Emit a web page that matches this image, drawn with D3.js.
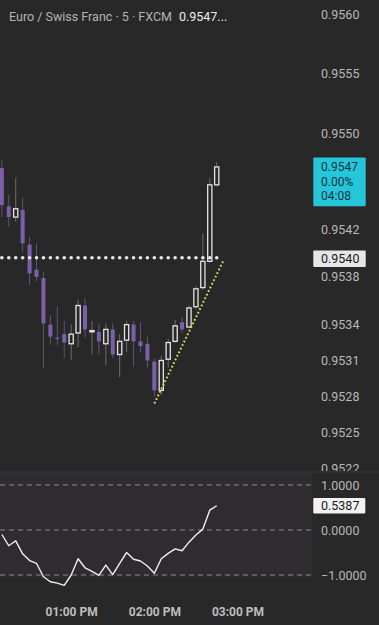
<!DOCTYPE html>
<html>
<head>
<meta charset="utf-8">
<script src="https://cdn.jsdelivr.net/npm/d3@7"></script>
<style>
  body { margin: 0; background: #282828; }
  svg { display: block; }
  text { font-family: Roboto, "Noto Sans", sans-serif; }
</style>
</head>
<body>
<div id="chart"></div>
<script>
// 5 minute candles, EUR/CHF
var times = ["12:10","12:15","12:20","12:25","12:30","12:35","12:40","12:45","12:50","12:55",
             "13:00","13:05","13:10","13:15","13:20","13:25","13:30","13:35","13:40","13:45",
             "13:50","13:55","14:00","14:05","14:10","14:15","14:20","14:25","14:30","14:35",
             "14:40","14:45"];
var opens  = [0.95471,0.95439,0.95430,0.95436,0.95407,0.95386,0.95379,0.95340,0.95329,0.95332,
              0.95324,0.95333,0.95356,0.95334,0.95334,0.95324,0.95336,0.95315,0.95327,0.95340,
              0.95326,0.95324,0.95309,0.95285,0.95311,0.95326,0.95342,0.95338,0.95355,0.95371,
              0.95393,0.95457];
var highs  = [0.95478,0.95449,0.95463,0.95446,0.95413,0.95408,0.95384,0.95348,0.95355,0.95343,
              0.95340,0.95361,0.95362,0.95343,0.95341,0.95341,0.95341,0.95332,0.95343,0.95343,
              0.95342,0.95330,0.95312,0.95314,0.95328,0.95344,0.95346,0.95356,0.95372,0.95416,
              0.95463,0.95476];
var lows   = [0.95430,0.95422,0.95426,0.95401,0.95373,0.95376,0.95304,0.95323,0.95323,0.95312,
              0.95310,0.95321,0.95329,0.95315,0.95315,0.95306,0.95312,0.95296,0.95317,0.95305,
              0.95317,0.95304,0.95280,0.95281,0.95304,0.95325,0.95333,0.95337,0.95353,0.95369,
              0.95392,0.95456];
var closes = [0.95440,0.95430,0.95437,0.95408,0.95383,0.95380,0.95341,0.95330,0.95328,0.95325,
              0.95332,0.95356,0.95336,0.95335,0.95326,0.95336,0.95315,0.95326,0.95340,0.95326,
              0.95322,0.95310,0.95285,0.95310,0.95325,0.95339,0.95336,0.95354,0.95370,0.95393,
              0.95457,0.95472];
var oscValues = [-0.10,-0.35,-0.24,-0.53,-0.68,-0.74,-1.04,-1.15,-1.18,-1.23,
                 -1.00,-0.64,-0.84,-0.92,-1.01,-0.78,-0.99,-0.74,-0.50,-0.65,
                 -0.69,-0.80,-0.96,-0.64,-0.52,-0.42,-0.46,-0.27,-0.11,0.02,
                 0.44,0.5387];
var levelValue = 0.95396;
var trendTimes = ["14:00","14:50"];
var trendPrices = [0.95274,0.95394];
var priceTicks = [0.9560,0.9555,0.9550,0.9542,0.9538,0.9534,0.9531,0.9528,0.9525,0.9522];
var oscTicks = [1,0,-1];
var timeTicks = ["13:00","14:00","15:00"];
var lastLabel = ["0.9547", "0.00%", "04:08"];

var W = 379, H = 625;
var paneRight = 312, mainBottom = 471;
var parseT = function(s){ return d3.timeParse("%H:%M")(s); };

var svg = d3.select("#chart").append("svg").attr("width", W).attr("height", H);
svg.append("rect").attr("width", W).attr("height", H).attr("fill", "#282828");

var x = d3.scaleTime().domain([parseT("12:00"), parseT("15:00")]).range([-12, 237.5]);
var y = d3.scaleLinear().domain([0.9522, 0.9560]).range([468, 14]);
var yOsc = d3.scaleLinear().domain([-1, 1]).range([575, 485]);

var candles = times.map(function(t, i){
  return {t: parseT(t), o: opens[i], h: highs[i], l: lows[i], c: closes[i], osc: oscValues[i]};
});

// clip for main pane
svg.append("clipPath").attr("id", "mainClip").append("rect")
  .attr("x", 0).attr("y", 0).attr("width", paneRight).attr("height", mainBottom);
svg.append("clipPath").attr("id", "axisClip").append("rect")
  .attr("x", 0).attr("y", 0).attr("width", W).attr("height", mainBottom);

// header
var head = svg.append("text").attr("x", 9).attr("y", 20.5).attr("font-size", 12.5);
head.append("tspan").attr("fill", "#b4b4b4").text("Euro / Swiss Franc · 5 · FXCM");
head.append("tspan").attr("fill", "#ececec").attr("dx", 7).text("0.9547...");

var main = svg.append("g").attr("clip-path", "url(#mainClip)");

// candles
var cg = main.selectAll(".candle").data(candles).enter().append("g").attr("class", "candle");
cg.append("line")
  .attr("x1", function(d){ return x(d.t); }).attr("x2", function(d){ return x(d.t); })
  .attr("y1", function(d){ return y(d.h); }).attr("y2", function(d){ return y(d.l); })
  .attr("stroke", function(d){ return d.c >= d.o ? "#6c6c6c" : "#5d5570"; })
  .attr("stroke-width", 1);
cg.append("rect")
  .attr("x", function(d){ return x(d.t) - (d.c >= d.o ? 2.1 : 2); })
  .attr("width", function(d){ return d.c >= d.o ? 4.2 : 4; })
  .attr("y", function(d){ return y(Math.max(d.o, d.c)); })
  .attr("height", function(d){ return Math.max(1, Math.abs(y(d.o) - y(d.c))); })
  .attr("fill", function(d){ return d.c >= d.o ? "#282828" : "#7b5fa8"; })
  .attr("stroke", function(d){ return d.c >= d.o ? "#e4e4e4" : "none"; })
  .attr("stroke-width", 1.3);

// dotted level
main.selectAll(".lvl").data(candles).enter().append("circle")
  .attr("cx", function(d){ return x(d.t); })
  .attr("cy", y(levelValue))
  .attr("r", 1.8)
  .attr("fill", "#e8e8e8");

// trend line
main.append("line")
  .attr("x1", x(parseT(trendTimes[0]))).attr("y1", y(trendPrices[0]))
  .attr("x2", x(parseT(trendTimes[1]))).attr("y2", y(trendPrices[1]))
  .attr("stroke", "#ddd55e").attr("stroke-width", 2)
  .attr("stroke-dasharray", "1.8 2.2");

// price axis
var pAxis = svg.append("g").attr("clip-path", "url(#axisClip)")
  .append("g").attr("transform", "translate(321,0)")
  .call(d3.axisRight(y).tickValues(priceTicks).tickSize(0).tickPadding(0).tickFormat(d3.format(".4f")));
pAxis.select(".domain").remove();
pAxis.selectAll("text").attr("fill", "#b8b8b8").attr("font-size", 12.5)
  .attr("font-family", "Roboto, sans-serif");

// last price label
var lastC = candles[candles.length - 1];
var ly = y(lastC.c);
svg.append("rect").attr("x", 313.3).attr("y", ly - 9.4).attr("width", 52.4).attr("height", 48.7)
  .attr("fill", "#26c6da").attr("rx", 1);
lastLabel.forEach(function(s, i){
  svg.append("text").attr("x", 321).attr("y", ly + [0, 14.8, 28.5][i]).attr("dy", "0.35em")
    .attr("font-size", 12).attr("fill", "#10323a").text(s);
});

// level label
var lvy = y(levelValue);
svg.append("rect").attr("x", 313.3).attr("y", lvy - 7.3).attr("width", 52.4).attr("height", 16.6)
  .attr("fill", "#e6e6e6").attr("rx", 1);
svg.append("text").attr("x", 321).attr("y", lvy + 1).attr("dy", "0.35em")
  .attr("font-size", 12.5).attr("fill", "#1a1a1a").text(d3.format(".4f")(levelValue));

// pane separator + oscillator pane
svg.append("line").attr("x1", 0).attr("x2", W).attr("y1", 472).attr("y2", 472)
  .attr("stroke", "#3c3c3c").attr("stroke-width", 1);
svg.append("rect").attr("x", 0).attr("y", 473).attr("width", paneRight).attr("height", 105)
  .attr("fill", "#2e2b31");

svg.selectAll(".oscGrid").data(oscTicks).enter().append("line")
  .attr("x1", 0).attr("x2", paneRight)
  .attr("y1", function(d){ return yOsc(d); }).attr("y2", function(d){ return yOsc(d); })
  .attr("stroke", "#8a8a8a").attr("stroke-width", 1).attr("stroke-dasharray", "5 4");

var oscLine = d3.line().x(function(d){ return x(d.t); }).y(function(d){ return yOsc(d.osc); });
svg.append("path").datum(candles).attr("d", oscLine)
  .attr("fill", "none").attr("stroke", "#f0f0f0").attr("stroke-width", 1.4)
  .attr("stroke-linejoin", "round");

var oAxis = svg.append("g").attr("transform", "translate(321,0)")
  .call(d3.axisRight(yOsc).tickValues(oscTicks).tickSize(0).tickPadding(0)
    .tickFormat(function(d){ return d3.format(".4f")(d).replace("-", "\u2212"); }));
oAxis.select(".domain").remove();
oAxis.selectAll("text").attr("fill", "#b8b8b8").attr("font-size", 12.5)
  .attr("font-family", "Roboto, sans-serif");

var lastOsc = oscValues[oscValues.length - 1];
svg.append("rect").attr("x", 313.3).attr("y", yOsc(lastOsc) - 7.8).attr("width", 52).attr("height", 15.6)
  .attr("fill", "#f2f2f2").attr("rx", 1);
svg.append("text").attr("x", 321).attr("y", yOsc(lastOsc)).attr("dy", "0.35em")
  .attr("font-size", 12.5).attr("fill", "#1a1a1a").text(lastOsc.toFixed(4));

// time axis
var tAxis = svg.append("g").attr("transform", "translate(0,607.5)")
  .call(d3.axisBottom(x).tickValues(timeTicks.map(parseT)).tickSize(0).tickPadding(0)
    .tickFormat(d3.timeFormat("%I:%M %p")));
tAxis.select(".domain").remove();
tAxis.selectAll("text").attr("fill", "#bdbdbd").attr("font-size", 12)
  .attr("font-weight", "bold").attr("font-family", "Roboto, sans-serif");
</script>
</body>
</html>
